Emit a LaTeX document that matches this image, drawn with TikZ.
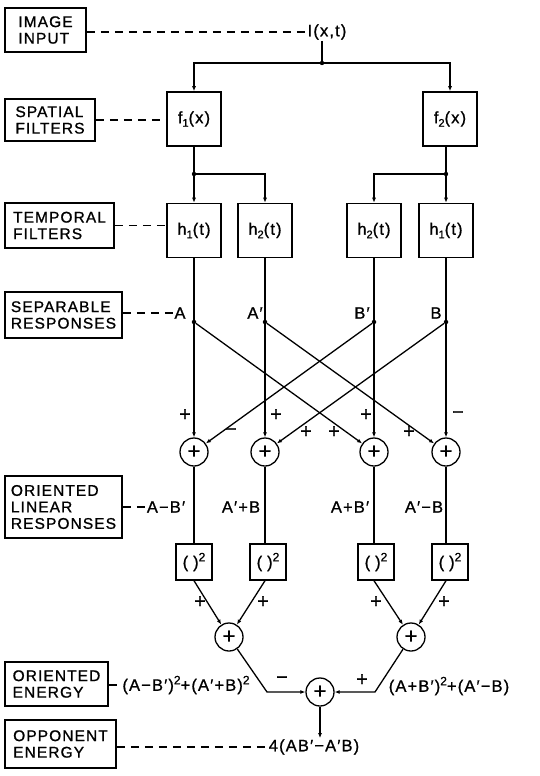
\documentclass[tikz,border=0pt]{standalone}
\usepackage{fontspec}
\setmainfont{Liberation Sans}[LetterSpace=7,FakeBold=1]
\usetikzlibrary{arrows.meta}
\newcommand\sbs[1]{\raisebox{-0.4ex}{\fontsize{11}{11}\selectfont #1}}
\newcommand\spw[1]{\raisebox{0.75ex}{\fontsize{12}{11}\selectfont #1}}
\begin{document}
\begin{tikzpicture}[x=1pt,y=-1pt,
  lab/.style={draw, line width=1.5pt, align=left, inner xsep=6pt, inner ysep=0pt, font=\fontsize{15.5}{16.5}\selectfont},
  filt/.style={draw, line width=1.6pt, minimum width=54pt, minimum height=54pt, inner sep=0pt, font=\fontsize{16.5}{16}\selectfont},
  sq/.style={draw, line width=1.4pt, minimum size=36pt, inner sep=0pt, font=\fontsize{16.5}{16}\selectfont},
  sum/.style={circle, draw, line width=1.3pt, minimum size=28pt, inner sep=0pt, font=\fontsize{22}{22}\selectfont},
  conn/.style={line width=1.3pt},
  arr/.style={conn, -{Latex[length=5pt,width=4pt]}},
  dsh/.style={line width=1.2pt, dash pattern=on 8pt off 6pt},
  dot/.style={circle, fill, inner sep=0pt, minimum size=4.5pt},
  sgn/.style={font=\fontsize{20}{20}\selectfont, inner sep=0pt},
  eq/.style={font=\fontsize{16.5}{16}\selectfont, inner sep=1pt}]
\useasboundingbox (0,0) rectangle (540,776);
% label boxes
\node[lab, minimum width=81pt, minimum height=44pt] (Limg) at (45.5,30) {IMAGE\\INPUT};
\node[lab, minimum width=90pt, minimum height=42pt] (Lspa) at (50,120) {SPATIAL\\FILTERS};
\node[lab, minimum width=109pt, minimum height=45pt] (Ltmp) at (59.5,225.5) {TEMPORAL\\FILTERS};
\node[lab, minimum width=117pt, minimum height=46pt] (Lsep) at (63.5,315) {SEPARABLE\\RESPONSES};
\node[lab, minimum width=117pt, minimum height=62pt] (Llin) at (63.5,507) {ORIENTED\\LINEAR\\RESPONSES};
\node[lab, minimum width=103pt, minimum height=44pt] (Len) at (56.5,684) {ORIENTED\\ENERGY};
\node[lab, minimum width=111pt, minimum height=48pt] (Lopp) at (60.5,744) {OPPONENT\\ENERGY};
% input
\node[eq] (Ix) at (327,32) {I(x,t)};
\coordinate (j0) at (322,63);
% spatial filters
\node[filt] (f1) at (194,119) {f\sbs{1}(x)};
\node[filt] (f2) at (450,119) {f\sbs{2}(x)};
% temporal filters
\node[filt] (h1L) at (194,230.5) {h\sbs{1}(t)};
\node[filt] (h2L) at (265,230.5) {h\sbs{2}(t)};
\node[filt] (h2R) at (374,230.5) {h\sbs{2}(t)};
\node[filt] (h1R) at (446,230.5) {h\sbs{1}(t)};
\coordinate (jL) at (194,174);
\coordinate (jR) at (446,174);
% separable responses
\node[dot] (dA) at (194,322) {};
\node[dot] (dA2) at (265,322) {};
\node[dot] (dB2) at (374,322) {};
\node[dot] (dB) at (446,322) {};
\node[eq] (lA) at (180,313) {A};
\node[eq] (lA2) at (255,313) {A′};
\node[eq] (lB2) at (362,313) {B′};
\node[eq] (lB) at (436,313) {B};
% summers
\node[sum] (s1) at (194,452) {+};
\node[sum] (s2) at (265,452) {+};
\node[sum] (s3) at (374,452) {+};
\node[sum] (s4) at (446,452) {+};
% linear responses
\node[eq] (lin1) at (166,507) {A−B′};
\node[eq] (lin2) at (241,507) {A′+B};
\node[eq] (lin3) at (350,507) {A+B′};
\node[eq] (lin4) at (424,507) {A′−B};
% squarers
\node[sq] (q1) at (194,562) {(\kern5pt)\spw{2}};
\node[sq] (q2) at (268,562) {(\kern5pt)\spw{2}};
\node[sq] (q3) at (376,562) {(\kern5pt)\spw{2}};
\node[sq] (q4) at (450,562) {(\kern5pt)\spw{2}};
% energy
\node[sum] (s5) at (229,637) {+};
\node[sum] (s6) at (411,637) {+};
\node[sum] (s7) at (320,692) {+};
\coordinate (c5) at (267,692);
\coordinate (c6) at (375,692);
\node[eq] (en1) at (186,685) {(A−B′)\spw{2}+(A′+B)\spw{2}};
\node[eq] (en2) at (449,686) {(A+B′)\spw{2}+(A′−B)};
\node[eq] (opp) at (314,747) {4(AB′−A′B)};
% dashed leaders
\draw[dsh] (Limg.east |- Ix) -- (Ix.west);
\draw[dsh] (Lspa.east) -- (Lspa.east -| f1.west);
\draw[dsh] (Ltmp.east) -- (Ltmp.east -| h1L.west);
\draw[dsh] (Lsep.east |- lA) -- (lA.west);
\draw[dsh] (Llin.east |- lin1) -- (lin1.west);
\draw[dsh] (Len.east |- en1) -- (en1.west);
\draw[dsh] (Lopp.east |- opp) -- (opp.west);
% top connections
\draw[conn] (Ix.south -| j0) -- (j0);
\draw[arr] (j0) -| (f1.north);
\draw[arr] (j0) -| (f2.north);
\fill (j0) circle (2.2pt);
\draw[arr] (f1.south) -- (h1L.north);
\draw[arr] (jL) -| (h2L.north);
\fill (jL) circle (2.2pt);
\draw[arr] (f2.south -| jR) -- (h1R.north);
\draw[arr] (jR) -| (h2R.north);
\fill (jR) circle (2.2pt);
% temporal to separable
\draw[conn] (h1L.south) -- (dA);
\draw[conn] (h2L.south) -- (dA2);
\draw[conn] (h2R.south) -- (dB2);
\draw[conn] (h1R.south) -- (dB);
% separable to summers
\draw[arr] (dA) -- (s1);
\draw[arr] (dA2) -- (s2);
\draw[arr] (dB2) -- (s3);
\draw[arr] (dB) -- (s4);
\draw[arr] (dA) -- (s3);
\draw[arr] (dA2) -- (s4);
\draw[arr] (dB2) -- (s1);
\draw[arr] (dB) -- (s2);
% signs
\node[sgn] at (185,415) {+};
\node[sgn] at (276,415) {+};
\node[sgn] at (366,415) {+};
\node[sgn] at (458,415) {−};
\node[sgn] at (231,432) {−};
\node[sgn] at (306,432) {+};
\node[sgn] at (334,432) {+};
\node[sgn] at (409,432) {+};
% summers to squarers
\draw[conn] (s1) -- (q1);
\draw[conn] (s2) -- (q2.north -| s2);
\draw[conn] (s3) -- (q3.north -| s3);
\draw[conn] (s4) -- (q4.north -| s4);
% squarers to energy summers
\draw[arr] (q1.south) -- (s5);
\draw[arr] (q2.south -| s2) -- (s5);
\draw[arr] (q3.south -| s3) -- (s6);
\draw[arr] (q4.south -| s4) -- (s6);
\node[sgn] at (200,602) {+};
\node[sgn] at (263,602) {+};
\node[sgn] at (376,602) {+};
\node[sgn] at (444,602) {+};
% opponent
\draw[arr] (s5) -- (c5) -- (s7);
\draw[arr] (s6) -- (c6) -- (s7);
\node[sgn] at (282,680) {−};
\node[sgn] at (362,680) {+};
\draw[arr] (s7) -- (s7 |- opp.north);
\end{tikzpicture}
\end{document}
